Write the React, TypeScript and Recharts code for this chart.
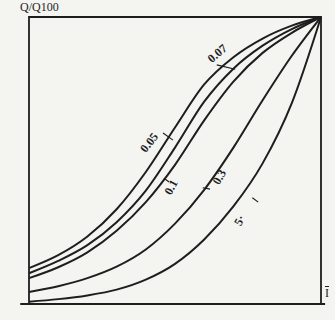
import React from "react";
import { LineChart, Line, XAxis, YAxis, ReferenceArea, ReferenceLine, ReferenceDot } from "recharts";

const xs = [0, 0.1, 0.2, 0.3, 0.4, 0.5, 0.6, 0.7, 0.8, 0.9, 1];
const ticks = [0, 0.1, 0.2, 0.3, 0.4, 0.5, 0.6, 0.7, 0.8, 0.9, 1];

// relative flow curves, top to bottom
const s005 = [0.125, 0.17, 0.235, 0.33, 0.46, 0.615, 0.765, 0.86, 0.925, 0.97, 1];
const s007 = [0.107, 0.15, 0.205, 0.285, 0.395, 0.545, 0.705, 0.82, 0.9, 0.958, 1];
const s01 = [0.09, 0.128, 0.18, 0.255, 0.355, 0.485, 0.64, 0.775, 0.875, 0.945, 1];
const s03 = [0.042, 0.062, 0.09, 0.13, 0.19, 0.28, 0.398, 0.545, 0.71, 0.865, 1];
const s5 = [0.008, 0.017, 0.03, 0.05, 0.085, 0.14, 0.225, 0.34, 0.49, 0.7, 1];

const data = xs.map((x, i) => ({ x, a: s005[i], b: s007[i], c: s01[i], d: s03[i], e: s5[i] }));

const labels = [
  { x: 0.647, y: 0.87, text: "0.07", rot: -40 },
  { x: 0.415, y: 0.56, text: "0.05", rot: -52 },
  { x: 0.49, y: 0.405, text: "0.1", rot: -62 },
  { x: 0.655, y: 0.44, text: "0.3", rot: -60 },
  { x: 0.725, y: 0.29, text: "5·", rot: -62 },
];

const leaders = [
  [{ x: 0.643, y: 0.833 }, { x: 0.706, y: 0.818 }],
  [{ x: 0.459, y: 0.596 }, { x: 0.493, y: 0.571 }],
  [{ x: 0.462, y: 0.438 }, { x: 0.48, y: 0.425 }],
  [{ x: 0.595, y: 0.405 }, { x: 0.62, y: 0.4 }],
  [{ x: 0.765, y: 0.37 }, { x: 0.785, y: 0.355 }],
];

const ink = "#1e1e1e";
const noTick = () => <g />;

export default function App() {
  return (
    <div style={{ position: "fixed", left: 0, top: 0, width: 335, height: 320, background: "#f4f4f1", fontFamily: "'Liberation Serif', 'DejaVu Serif', serif" }}>
      <div style={{ position: "absolute", left: 20, top: 0, fontSize: 12, color: ink, lineHeight: "14px" }}>Q/Q100</div>
      <div style={{ position: "absolute", left: 325, top: 286, fontSize: 12, color: ink, borderTop: `1px solid ${ink}`, lineHeight: "12px" }}>I</div>
      <LineChart width={335} height={320} data={data} margin={{ top: 17, right: 14, bottom: 16, left: 29 }}>
        <XAxis dataKey="x" type="number" domain={[0, 1]} ticks={ticks} height={0} mirror tickSize={3} tick={noTick} axisLine={{ stroke: ink, strokeWidth: 2 }} tickLine={{ stroke: ink, strokeWidth: 1.2 }} />
        <YAxis type="number" domain={[0, 1]} ticks={ticks} width={0} mirror tickSize={3} tick={noTick} axisLine={{ stroke: ink, strokeWidth: 2.2 }} tickLine={{ stroke: ink, strokeWidth: 1.2 }} />
        <ReferenceArea x1={0} x2={1} y1={0} y2={1} fill="none" stroke={ink} strokeWidth={1.8} />
        <ReferenceLine segment={[{ x: -0.03, y: 0 }, { x: 1.014, y: 0 }]} stroke={ink} strokeWidth={2} ifOverflow="visible" />
        {leaders.map((seg, i) => (
          <ReferenceLine key={i} segment={seg} stroke={ink} strokeWidth={1.2} />
        ))}
        {["a", "b", "c", "d", "e"].map((k) => (
          <Line key={k} dataKey={k} type="monotone" stroke={ink} strokeWidth={2} dot={false} isAnimationActive={false} />
        ))}
        {labels.map((l) => (
          <ReferenceDot
            key={l.text}
            x={l.x}
            y={l.y}
            r={0}
            shape={(p: any) => (
              <text x={p.cx} y={p.cy} transform={`rotate(${l.rot} ${p.cx} ${p.cy})`} textAnchor="middle" dominantBaseline="middle" fontSize={12} fontWeight="bold" fill={ink} fontFamily="'Liberation Serif', serif">
                {l.text}
              </text>
            )}
          />
        ))}
      </LineChart>
    </div>
  );
}
